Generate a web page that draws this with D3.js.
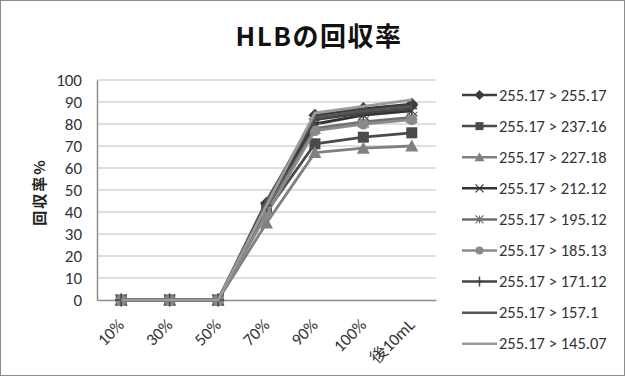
<!DOCTYPE html>
<html>
<head>
<meta charset="utf-8">
<script src="https://cdn.jsdelivr.net/npm/d3@7/dist/d3.min.js"></script>
<style>
  body { margin: 0; background: #fff; }
  svg { display: block; }
</style>
</head>
<body>
<svg id="chart" width="625" height="376"></svg>
<script>
// Fractions collected and recovery (%) for each MRM transition
const categories = ["10%", "30%", "50%", "70%", "90%", "100%", "後10mL"];
const yTicks = [0, 10, 20, 30, 40, 50, 60, 70, 80, 90, 100];
const seriesNames = [
  "255.17 > 255.17", "255.17 > 237.16", "255.17 > 227.18",
  "255.17 > 212.12", "255.17 > 195.12", "255.17 > 185.13",
  "255.17 > 171.12", "255.17 > 157.1", "255.17 > 145.07"
];
const s255_17 = [0, 0, 0, 44, 84, 87, 89];
const s237_16 = [0, 0, 0, 40, 71, 74, 76];
const s227_18 = [0, 0, 0, 35, 67, 69, 70];
const s212_12 = [0, 0, 0, 42, 80, 84, 86];
const s195_12 = [0, 0, 0, 41, 78, 81, 83];
const s185_13 = [0, 0, 0, 39, 77, 80, 82];
const s171_12 = [0, 0, 0, 43, 82, 85, 87];
const s157_1  = [0, 0, 0, 45, 83, 86, 88];
const s145_07 = [0, 0, 0, 43, 85, 88, 91];
const seriesValues = [s255_17, s237_16, s227_18, s212_12, s195_12, s185_13, s171_12, s157_1, s145_07];

const styles = [
  { color: "#3c3c3c", marker: "diamond" },
  { color: "#4a4a4a", marker: "square" },
  { color: "#808080", marker: "triangle" },
  { color: "#333333", marker: "x" },
  { color: "#6e6e6e", marker: "star" },
  { color: "#8a8a8a", marker: "circle" },
  { color: "#444444", marker: "plus" },
  { color: "#555555", marker: null },
  { color: "#9a9a9a", marker: null }
];

const svg = d3.select("#chart");
const W = 625, H = 376;
const font = "Carlito, 'Liberation Sans', 'Noto Sans CJK JP', sans-serif";
const cjk = "'Noto Sans CJK JP', sans-serif";

svg.append("rect").attr("x", 0.5).attr("y", 0.5).attr("width", W - 1).attr("height", H - 1)
  .attr("fill", "#fff").attr("stroke", "#8c8c8c");

const plot = { left: 97, right: 436, top: 80, bottom: 300 };

const x = d3.scaleBand().domain(categories).range([plot.left, plot.right]);
const y = d3.scaleLinear().domain([0, 100]).range([plot.bottom, plot.top]);

// gridlines
svg.append("g").selectAll("line").data(yTicks.filter(d => d > 0)).join("line")
  .attr("x1", plot.left).attr("x2", plot.right)
  .attr("y1", d => y(d)).attr("y2", d => y(d))
  .attr("stroke", "#d4d4d4").attr("stroke-width", 1.5);

// y axis
const yAxis = svg.append("g").attr("transform", `translate(${plot.left},0)`)
  .call(d3.axisLeft(y).tickValues(yTicks).tickSize(0).tickPadding(15));
yAxis.select(".domain").attr("stroke", "#8c8c8c").attr("stroke-width", 1.5);
yAxis.selectAll("text").attr("font-family", font).attr("font-size", 17).attr("fill", "#333");

// x axis
const xAxis = svg.append("g").attr("transform", `translate(0,${plot.bottom})`)
  .call(d3.axisBottom(x).tickSize(0).tickPadding(0));
xAxis.select(".domain").attr("stroke", "#8c8c8c").attr("stroke-width", 1.5);
xAxis.selectAll("text")
  .attr("font-family", font).attr("font-size", 17).attr("fill", "#333")
  .attr("text-anchor", "end").attr("dy", 0)
  .attr("transform", "translate(4,26) rotate(-45)");

// axis title
svg.append("text")
  .attr("transform", `translate(45,${(plot.top + plot.bottom) / 2 + 2}) rotate(-90)`)
  .attr("text-anchor", "middle").attr("font-family", cjk)
  .attr("font-weight", "bold").attr("font-size", 15).attr("letter-spacing", 2).attr("fill", "#222")
  .text("回収率%");

// title
svg.append("text").attr("x", 319).attr("y", 46).attr("text-anchor", "middle")
  .attr("font-family", cjk).attr("font-weight", "bold")
  .attr("font-size", 26).attr("letter-spacing", 1.5).attr("fill", "#111").text("HLBの回収率");

function drawMarker(g, type, cx, cy, color, s) {
  if (!type) return;
  if (type === "diamond") {
    g.append("path").attr("d", `M${cx},${cy - s - 1}L${cx + s + 1},${cy}L${cx},${cy + s + 1}L${cx - s - 1},${cy}Z`).attr("fill", color);
  } else if (type === "square") {
    g.append("rect").attr("x", cx - s).attr("y", cy - s).attr("width", 2 * s).attr("height", 2 * s).attr("fill", color);
  } else if (type === "triangle") {
    g.append("path").attr("d", `M${cx},${cy - s - 1}L${cx + s + 1},${cy + s}L${cx - s - 1},${cy + s}Z`).attr("fill", color);
  } else if (type === "circle") {
    g.append("circle").attr("cx", cx).attr("cy", cy).attr("r", s).attr("fill", color);
  } else if (type === "x") {
    g.append("path").attr("d", `M${cx - s},${cy - s}L${cx + s},${cy + s}M${cx - s},${cy + s}L${cx + s},${cy - s}`)
      .attr("stroke", color).attr("stroke-width", 1.2);
  } else if (type === "star") {
    g.append("path").attr("d", `M${cx - s},${cy - s}L${cx + s},${cy + s}M${cx - s},${cy + s}L${cx + s},${cy - s}M${cx},${cy - s}L${cx},${cy + s}`)
      .attr("stroke", color).attr("stroke-width", 1.2);
  } else if (type === "plus") {
    g.append("path").attr("d", `M${cx},${cy - s - 1}L${cx},${cy + s + 1}M${cx - s},${cy}L${cx + s},${cy}`)
      .attr("stroke", color).attr("stroke-width", 1.5);
  }
}

const line = d3.line().x((d, i) => x(categories[i]) + x.bandwidth() / 2).y(d => y(d));

const series = svg.append("g");
seriesValues.forEach((vals, k) => {
  const st = styles[k];
  const g = series.append("g");
  g.append("path").datum(vals).attr("d", line).attr("fill", "none")
    .attr("stroke", st.color).attr("stroke-width", 2.8).attr("stroke-linejoin", "round");
  vals.forEach((v, i) => drawMarker(g, st.marker, x(categories[i]) + x.bandwidth() / 2, y(v), st.color, 5.5));
});

// legend
const legend = svg.append("g");
seriesNames.forEach((name, k) => {
  const st = styles[k];
  const ly = 95 + k * 31.1;
  const g = legend.append("g");
  g.append("line").attr("x1", 462).attr("x2", 497).attr("y1", ly).attr("y2", ly)
    .attr("stroke", st.color).attr("stroke-width", 2.5);
  drawMarker(g, st.marker, 479.5, ly, st.color, 4);
  g.append("text").attr("x", 499).attr("y", ly + 5.5).attr("font-family", font)
    .attr("font-size", 16.5).attr("fill", "#333").text(name);
});
</script>
</body>
</html>
